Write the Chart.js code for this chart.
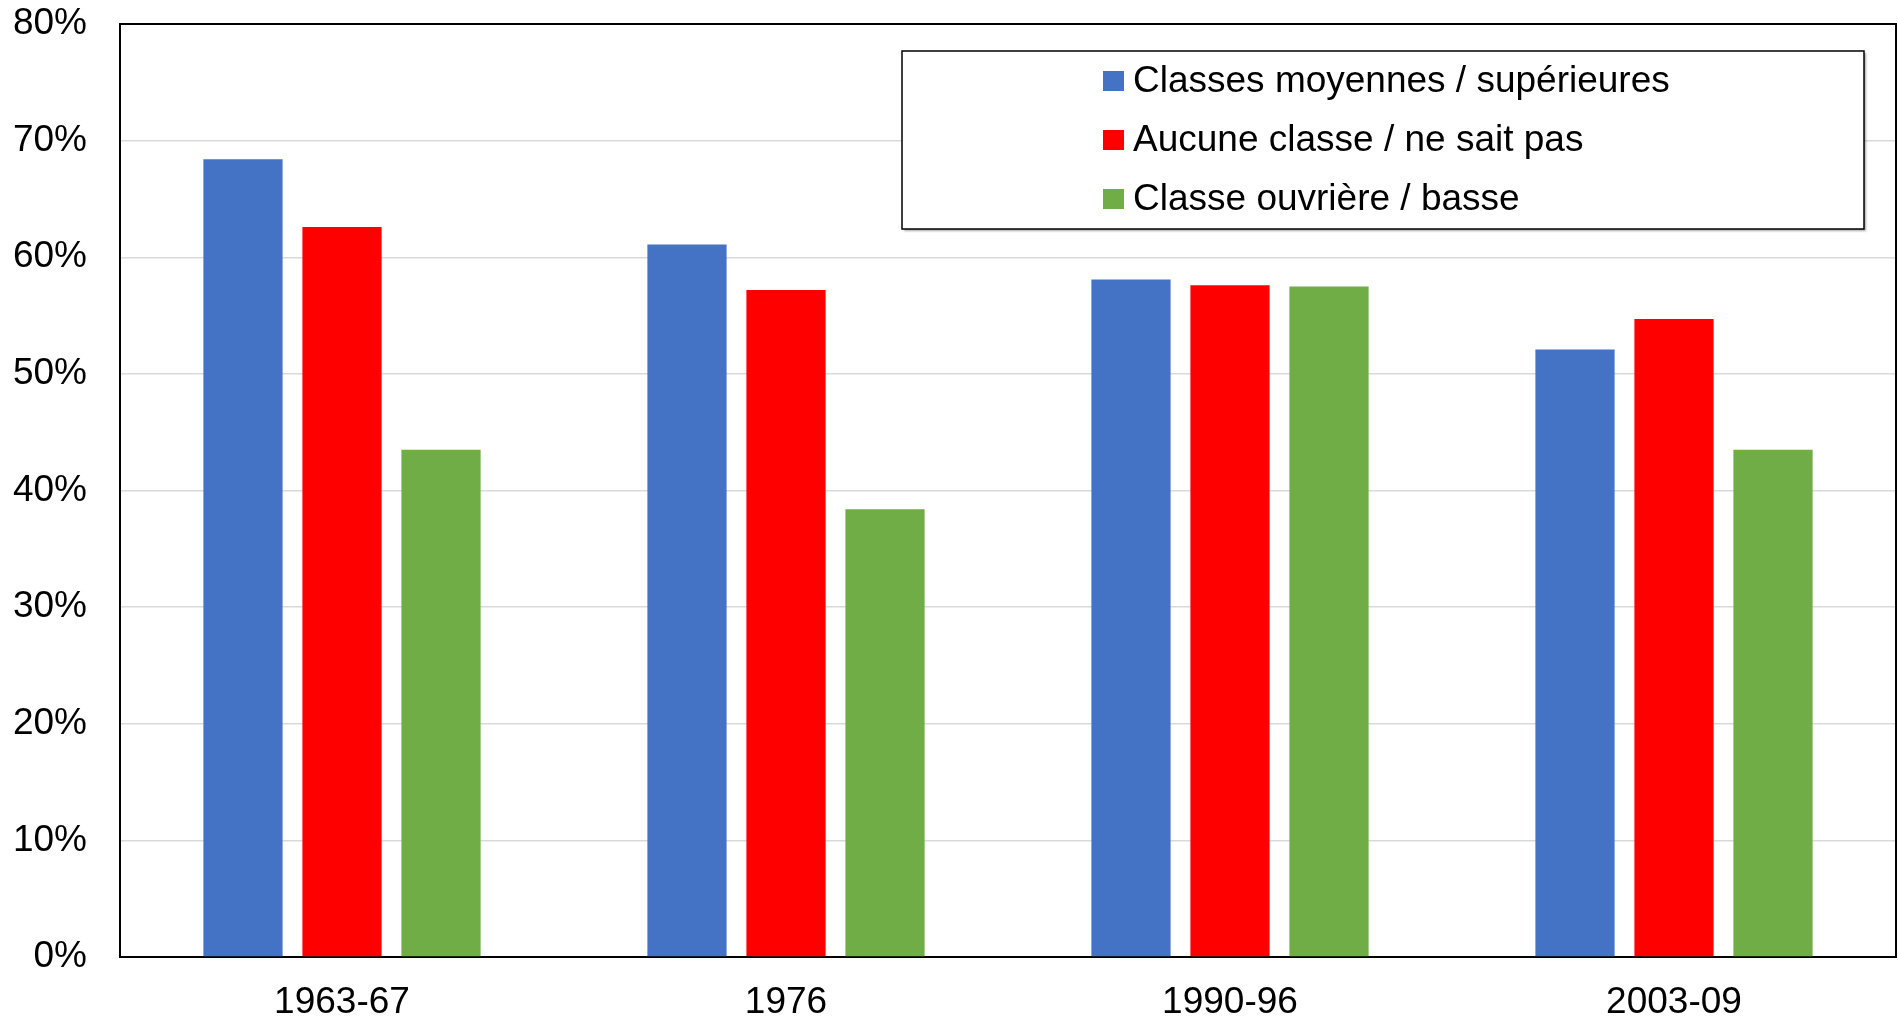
<!DOCTYPE html>
<html>
<head>
<meta charset="utf-8">
<script src="https://cdn.jsdelivr.net/npm/chart.js@4.4.1/dist/chart.umd.min.js"></script>
<style>
  html, body { margin: 0; padding: 0; background: #ffffff; }
  #wrap { width: 1898px; height: 1021px; }
</style>
</head>
<body>
<div id="wrap"><canvas id="c" width="1898" height="1021"></canvas></div>
<script>
const categories = ['1963-67', '1976', '1990-96', '2003-09'];
const seriesLabels = ['Classes moyennes / supérieures', 'Aucune classe / ne sait pas', 'Classe ouvrière / basse'];
const middleUpper = [68.4, 61.1, 58.1, 52.1];
const noneDontKnow = [62.6, 57.2, 57.6, 54.7];
const workingLower = [43.5, 38.4, 57.5, 43.5];
const yTickValues = [0, 10, 20, 30, 40, 50, 60, 70, 80];
const yTickLabels = ['0%', '10%', '20%', '30%', '40%', '50%', '60%', '70%', '80%'];

const FONT = "'Liberation Sans', Arial, sans-serif";

const frame = {
  id: 'frame',
  afterDraw(chart) {
    const { ctx, chartArea: a } = chart;
    ctx.save();
    ctx.strokeStyle = '#000';
    ctx.lineWidth = 2;
    ctx.beginPath();
    ctx.moveTo(a.left, a.top);
    ctx.lineTo(a.right, a.top);
    ctx.lineTo(a.right, a.bottom);
    ctx.stroke();
    ctx.restore();
  }
};

const boxLegend = {
  id: 'boxLegend',
  afterDraw(chart, args, o) {
    const ctx = chart.ctx;
    ctx.save();
    ctx.shadowColor = 'rgba(0,0,0,0.35)';
    ctx.shadowOffsetX = 2;
    ctx.shadowOffsetY = 2;
    ctx.shadowBlur = 2;
    ctx.fillStyle = '#fff';
    ctx.fillRect(o.x, o.y, o.w, o.h);
    ctx.shadowColor = 'transparent';
    ctx.strokeStyle = '#000';
    ctx.lineWidth = 1.5;
    ctx.strokeRect(o.x, o.y, o.w, o.h);
    ctx.font = o.fontSize + 'px ' + FONT;
    ctx.textBaseline = 'middle';
    ctx.textAlign = 'left';
    chart.data.datasets.forEach((ds, i) => {
      const cy = o.firstY + i * o.rowGap;
      ctx.fillStyle = ds.backgroundColor;
      ctx.fillRect(o.markerX, cy - o.markerH / 2, o.markerW, o.markerH);
      ctx.fillStyle = '#000';
      ctx.fillText(ds.label, o.textX, cy + 1);
    });
    ctx.restore();
  }
};

new Chart(document.getElementById('c'), {
  type: 'bar',
  data: {
    labels: categories,
    datasets: [
      { label: seriesLabels[0], data: middleUpper, backgroundColor: '#4472C4' },
      { label: seriesLabels[1], data: noneDontKnow, backgroundColor: '#FF0000' },
      { label: seriesLabels[2], data: workingLower, backgroundColor: '#70AD47' }
    ]
  },
  options: {
    responsive: false,
    animation: false,
    devicePixelRatio: 1,
    layout: { padding: { top: 24, right: 2, left: 0, bottom: 0 } },
    datasets: { bar: { categoryPercentage: 0.669, barPercentage: 0.8 } },
    scales: {
      x: {
        grid: { display: false, drawTicks: false },
        border: { display: true, color: '#000', width: 2 },
        ticks: { color: '#000', font: { family: FONT, size: 37 }, padding: 24, maxRotation: 0 },
        afterFit(s) { s.height = 64; s.paddingLeft = 0; s.paddingRight = 0; }
      },
      y: {
        min: 0, max: 80,
        afterBuildTicks(s) { s.ticks = yTickValues.map(v => ({ value: v })); },
        grid: { color: '#d9d9d9', lineWidth: 1.5, drawTicks: false },
        border: { display: true, color: '#000', width: 2 },
        ticks: {
          color: '#000', font: { family: FONT, size: 37 }, padding: 33,
          callback: (v) => yTickLabels[yTickValues.indexOf(v)]
        },
        afterFit(s) { s.width = 120; s.paddingTop = 0; s.paddingBottom = 0; }
      }
    },
    plugins: {
      legend: { display: false },
      tooltip: { enabled: false },
      boxLegend: {
        x: 902, y: 51, w: 962, h: 178,
        markerX: 1103, markerW: 21, markerH: 20,
        textX: 1133, firstY: 81, rowGap: 59, fontSize: 37
      }
    }
  },
  plugins: [frame, boxLegend]
});
</script>
</body>
</html>
